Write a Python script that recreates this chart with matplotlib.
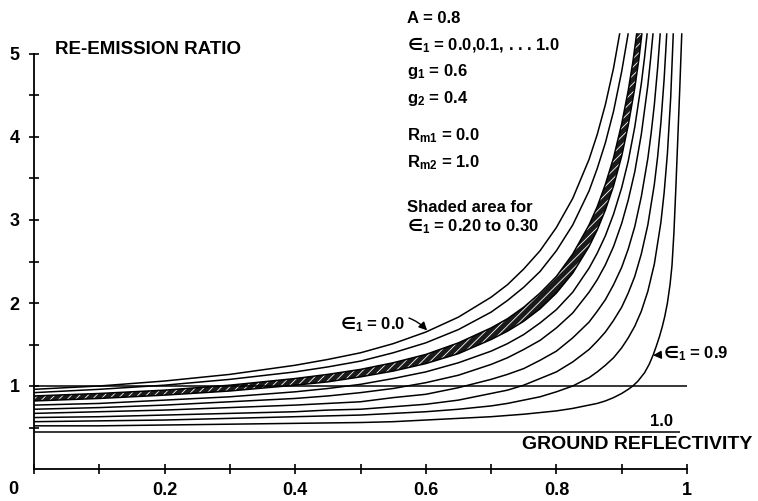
import numpy as np
import matplotlib
matplotlib.use('Agg')
import matplotlib.pyplot as plt

## Curves, one per epsilon_1 value (0.0 ... 1.0)
x_base = [0, .1, .2, .3, .4, .45, .5, .55, .6, .65, .7, .725, .75, .775, .8, .825, .85]

x_e00 = x_base + [.8625, .875, .8875, .897]
y_e00 = [.96, 1.00, 1.06, 1.14, 1.25, 1.32, 1.40, 1.51, 1.65, 1.83, 2.07, 2.22, 2.41, 2.63, 2.91, 3.26, 3.73,
         4.03, 4.39, 4.83, 5.25]

x_e01 = x_base + [.8625, .875, .8875, .9, .91]
y_e01 = [.92, .96, 1.01, 1.08, 1.17, 1.23, 1.30, 1.40, 1.52, 1.68, 1.89, 2.03, 2.19, 2.38, 2.63, 2.94, 3.35,
         3.62, 3.93, 4.31, 4.79, 5.25]

x_e02 = x_base + [.8625, .875, .8875, .9, .91, .917, .923]
y_e02 = [.88, .91, .95, 1.01, 1.09, 1.14, 1.20, 1.28, 1.38, 1.52, 1.70, 1.81, 1.95, 2.12, 2.32, 2.59, 2.94,
         3.16, 3.43, 3.75, 4.16, 4.56, 4.90, 5.25]

x_e03 = x_base + [.8625, .875, .8875, .9, .91, .92, .926, .931]
y_e03 = [.82, .85, .89, .94, 1.01, 1.05, 1.11, 1.18, 1.27, 1.39, 1.56, 1.66, 1.78, 1.93, 2.12, 2.36, 2.68,
         2.88, 3.12, 3.41, 3.77, 4.14, 4.59, 4.92, 5.25]

x_e04 = x_base + [.8625, .875, .8875, .9, .91, .92, .93, .935, .939]
y_e04 = [.77, .79, .83, .87, .93, .97, 1.02, 1.09, 1.17, 1.28, 1.42, 1.51, 1.62, 1.76, 1.92, 2.13, 2.42,
         2.60, 2.81, 3.07, 3.39, 3.71, 4.12, 4.64, 4.96, 5.25]

x_e05 = x_base + [.8625, .875, .8875, .9, .91, .92, .93, .94, .944, .948]
y_e05 = [.72, .74, .77, .81, .85, .88, .92, .97, 1.04, 1.13, 1.26, 1.34, 1.44, 1.55, 1.70, 1.88, 2.13,
         2.28, 2.46, 2.68, 2.96, 3.24, 3.58, 4.03, 4.62, 4.92, 5.25]

x_e06 = x_base + [.8625, .875, .8875, .9, .91, .92, .93, .94, .945, .95, .955, .959]
y_e06 = [.67, .69, .71, .74, .77, .79, .81, .86, .90, .98, 1.08, 1.14, 1.21, 1.31, 1.42, 1.58, 1.77,
         1.90, 2.04, 2.22, 2.43, 2.65, 2.92, 3.28, 3.74, 4.04, 4.39, 4.83, 5.25]

x_e07 = x_base + [.8625, .875, .8875, .9, .91, .92, .93, .94, .95, .955, .96, .965, .969]
y_e07 = [.62, .63, .65, .67, .69, .71, .72, .75, .78, .83, .91, .95, 1.01, 1.09, 1.17, 1.29, 1.44,
         1.54, 1.65, 1.79, 1.95, 2.12, 2.32, 2.59, 2.94, 3.43, 3.76, 4.17, 4.70, 5.25]

x_e08 = x_base + [.8625, .875, .8875, .9, .91, .92, .93, .94, .95, .96, .965, .97, .975, .979]
y_e08 = [.57, .58, .59, .61, .63, .64, .65, .67, .69, .72, .76, .79, .83, .87, .93, 1.00, 1.10,
         1.17, 1.25, 1.34, 1.46, 1.58, 1.72, 1.90, 2.14, 2.47, 2.97, 3.33, 3.80, 4.47, 5.25]

x_e09 = [0, .1, .2, .3, .4, .5, .55, .6, .65, .7, .725, .75, .775, .8, .825, .85, .8625, .875, .8875, .9,
         .91, .917, .925, .935, .942, .948, .953, .958, .962, .966, .97, .974, .977, .98, .983, .986, .989, .992]
y_e09 = [.52, .52, .53, .54, .55, .56, .57, .59, .61, .63, .645, .66, .68, .70, .73, .77, .79, .82, .86, .91,
         .96, 1.0, 1.06, 1.16, 1.26, 1.37, 1.48, 1.60, 1.71, 1.84, 2.0, 2.22, 2.45, 2.85, 3.4, 4.0, 4.6, 5.25]

x_e10 = [0, .99]
y_e10 = [.45, .45]

ref_level = 1.0
x_ticks = [0.2, 0.4, 0.6, 0.8, 1.0]
x_tick_labels = ['0.2', '0.4', '0.6', '0.8', '1']
y_ticks = [1, 2, 3, 4, 5]

EPS = '$\\mathcal{\u2208}_1$'   # the epsilon_1 symbol as printed on the original
info_lines = ['A = 0.8',
              EPS + ' = 0.0,0.1, . . . 1.0',
              'g$_1$ = 0.6',
              'g$_2$ = 0.4',
              'R$_{m1}$ = 0.0',
              'R$_{m2}$ = 1.0',
              'Shaded area for',
              EPS + ' = 0.20 to 0.30']
info_y = [5.37, 5.05, 4.73, 4.41, 3.96, 3.64, 3.10, 2.86]

plt.rcParams['font.family'] = ['Liberation Sans', 'DejaVu Sans']
plt.rcParams['font.weight'] = 'bold'
plt.rcParams['mathtext.fontset'] = 'custom'
plt.rcParams['mathtext.rm'] = 'Liberation Sans:bold'
plt.rcParams['mathtext.it'] = 'Liberation Sans:bold'
plt.rcParams['mathtext.bf'] = 'Liberation Sans:bold'
plt.rcParams['mathtext.cal'] = 'DejaVu Sans:bold'
plt.rcParams['hatch.linewidth'] = 0.6

fig = plt.figure(figsize=(7.58, 5.01), dpi=100)
ax = fig.add_axes([34 / 758, 32 / 501, 653 / 758, 5.3 * 83 / 501])

curves = [(x_e00, y_e00), (x_e01, y_e01), (x_e02, y_e02), (x_e03, y_e03),
          (x_e04, y_e04), (x_e05, y_e05), (x_e06, y_e06), (x_e07, y_e07),
          (x_e08, y_e08), (x_e09, y_e09), (x_e10, y_e10)]

# shaded band between eps = 0.2 and 0.3
ax.fill(np.concatenate([x_e02, x_e03[::-1]]), np.concatenate([y_e02, y_e03[::-1]]),
        facecolor='#1a1a1a', edgecolor='white', hatch='////', lw=0)

for x, y in curves:
    ax.plot(x, y, color='black', lw=1.1, solid_capstyle='butt', solid_joinstyle='round')

ax.hlines(ref_level, 0, 1.0, color='black', lw=1.1)

ax.set_xlim(0, 1.0)
ax.set_ylim(0, 5.3)
for s in ['top', 'right']:
    ax.spines[s].set_visible(False)
ax.spines['left'].set_bounds(0, 5)
ax.spines['bottom'].set_bounds(0, 1)
ax.spines['left'].set_linewidth(1.3)
ax.spines['bottom'].set_linewidth(1.3)

ax.set_xticks(np.arange(0, 1.01, 0.1), minor=True)
ax.set_yticks(np.arange(0.5, 5.01, 0.5), minor=True)
ax.set_xticks(x_ticks)
ax.set_xticklabels(x_tick_labels)
ax.set_yticks(y_ticks)
ax.tick_params(which='both', direction='inout', length=7, width=1.2, colors='black')
ax.tick_params(axis='x', labelsize=13, pad=6)
ax.tick_params(axis='y', labelsize=13, pad=7)

fig.text(13 / 758, 1 - 490 / 501, '0', fontsize=13, ha='center', va='center')
ax.text(0.032, 5.06, 'RE-EMISSION RATIO', fontsize=13.5, ha='left', va='center')
ax.text(1.10, 0.29, 'GROUND REFLECTIVITY', fontsize=14, ha='right', va='center',
        clip_on=False)
ax.text(0.979, 0.57, '1.0', fontsize=12, ha='right', va='center')

ax.annotate(EPS + ' = 0.0', xy=(0.602, 1.67), xytext=(0.518, 1.75),
            fontsize=12, ha='center', va='center',
            arrowprops=dict(arrowstyle='-|>', color='black', lw=1.0,
                            connectionstyle='arc3,rad=-0.4', shrinkA=1, shrinkB=0))
ax.annotate(EPS + ' = 0.9', xy=(0.948, 1.37), xytext=(0.963, 1.40),
            fontsize=12, ha='left', va='center',
            arrowprops=dict(arrowstyle='-|>', color='black', lw=1.0,
                            shrinkA=1, shrinkB=0))

for txt, yy in zip(info_lines, info_y):
    ax.text(0.571, yy, txt, fontsize=12, ha='left', va='baseline', clip_on=False)

fig.savefig('out.png', dpi=100)
